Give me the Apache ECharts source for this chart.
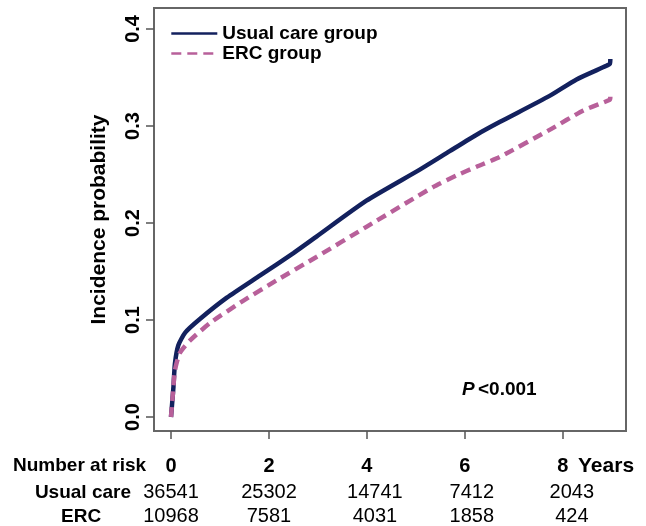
<!DOCTYPE html>
<html><head><meta charset="utf-8">
<script src="https://cdn.jsdelivr.net/npm/echarts@6/dist/echarts.min.js"></script>
<style>html,body{margin:0;padding:0;background:#fff}#c{width:646px;height:526px}</style>
</head><body><div id="c"></div>
<script>
// ---- data ----
const usualYears = [0,0.02,0.05,0.08,0.15,0.29,0.59,1.14,1.82,2.5,2.97,3.99,5.08,5.69,6.24,6.71,7.73,8.28,8.89,8.96,8.97];
const usualProb  = [0,0.012,0.031,0.055,0.074,0.087,0.101,0.123,0.146,0.169,0.186,0.223,0.255,0.274,0.291,0.304,0.331,0.348,0.362,0.364,0.369];
const ercYears = [0,0.04,0.08,0.18,0.39,0.8,1.48,2.16,2.97,3.99,5.35,5.83,6.24,6.71,7.73,8.42,8.96,8.97];
const ercProb  = [0,0.025,0.048,0.066,0.079,0.097,0.120,0.141,0.165,0.196,0.237,0.249,0.258,0.268,0.296,0.316,0.327,0.330];
const xTicks = [0,2,4,6,8];
const yTicks = [0,0.1,0.2,0.3,0.4];
const riskUsual = [36541,25302,14741,7412,2043];
const riskERC = [10968,7581,4031,1858,424];
const seriesNames = ['Usual care group','ERC group'];

const FONT = '"Liberation Sans", Arial, sans-serif';
const NAVY = '#13215e', PINK = '#b8609a';
const labelShift = [0,0,16,14,18]; // horizontal nudges (px*2) of at-risk labels
const chart = echarts.init(document.getElementById('c'));
const xBase = {type:'value', min:-0.347, max:9.29, gridIndex:0, position:'bottom',
  axisLine:{show:false, onZero:false}, splitLine:{show:false}};
function riskAxis(counts, margin){
  const rich = {};
  labelShift.forEach((s,i)=>{ rich['s'+i] = {fontFamily:FONT, fontSize:20, color:'#000', padding:[0,0,0,s]}; });
  return Object.assign({}, xBase, {
    axisTick:{show:false},
    axisLabel:{customValues:xTicks, margin:margin, fontFamily:FONT, fontSize:20, color:'#000',
      formatter:(v)=>{const i=xTicks.indexOf(v); return '{s'+i+'|'+counts[i]+'}';},
      rich:rich}
  });
}
chart.setOption({
  animation:false,
  grid:{left:154, top:8, width:472, height:423, show:true, borderColor:'#666', borderWidth:2, containLabel:false},
  xAxis:[
    Object.assign({}, xBase, {
      axisTick:{show:true, customValues:xTicks, length:8, lineStyle:{color:'#555', width:1.5}},
      axisLabel:{customValues:xTicks, margin:25, fontFamily:FONT, fontSize:20, fontWeight:'bold', color:'#000'}
    }),
    riskAxis(riskUsual, 51),
    riskAxis(riskERC, 75)
  ],
  yAxis:{type:'value', min:-0.0144, max:0.4216, axisLine:{show:false, onZero:false}, splitLine:{show:false},
    axisTick:{show:true, customValues:yTicks, length:8, lineStyle:{color:'#555', width:1.5}},
    axisLabel:{customValues:yTicks, rotate:90, margin:11, fontFamily:FONT, fontSize:20, fontWeight:'bold', color:'#000',
      formatter:(v)=>v.toFixed(1)},
    name:'Incidence probability', nameLocation:'middle', nameGap:44, nameRotate:90,
    nameTextStyle:{fontFamily:FONT, fontSize:21, fontWeight:'bold', color:'#000'}
  },
  legend:{orient:'vertical', left:165, top:19, itemWidth:46, itemHeight:14, itemGap:1,
    itemStyle:{opacity:0}, lineStyle:{width:2.6},
    textStyle:{fontFamily:FONT, fontSize:19, fontWeight:'bold', color:'#000'},
    data:seriesNames},
  series:[
    {name:seriesNames[0], type:'line', symbol:'none', smooth:0.2,
     data:usualYears.map((t,i)=>[t,usualProb[i]]),
     lineStyle:{color:NAVY, width:4.5}, itemStyle:{color:NAVY}, z:2},
    {name:seriesNames[1], type:'line', symbol:'none', smooth:0.2,
     data:ercYears.map((t,i)=>[t,ercProb[i]]),
     lineStyle:{color:PINK, width:4.5, type:[10,6]}, itemStyle:{color:PINK}, z:3}
  ],
  graphic:[
    {type:'text', left:13, top:456, style:{text:'Number at risk', font:'bold 19px '+FONT, fill:'#000'}},
    {type:'text', left:578, top:456, style:{text:'Years', font:'bold 21px '+FONT, fill:'#000'}},
    {type:'text', right:646-131, top:483, style:{text:'Usual care', font:'bold 19px '+FONT, fill:'#000'}},
    {type:'text', left:61, top:507, style:{text:'ERC', font:'bold 19px '+FONT, fill:'#000'}},
    {type:'text', left:462, top:380, style:{rich:{p:{font:'italic bold 19px '+FONT, fill:'#000'}, r:{font:'bold 19px '+FONT, fill:'#000'}}, text:'{p|P} {r|<0.001}'}}
  ]
});
</script></body></html>
